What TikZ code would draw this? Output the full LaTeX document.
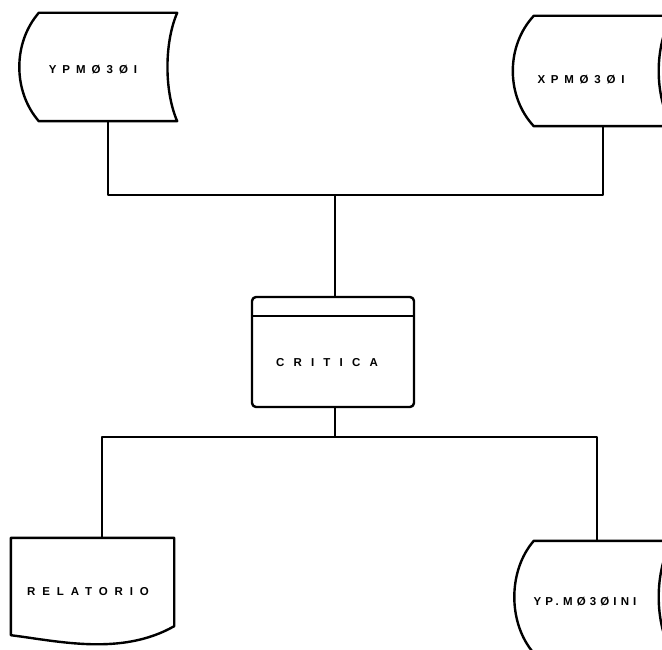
\documentclass[tikz,border=0pt]{standalone}
\usepackage{fontspec}
\newfontfamily\cardfont{Liberation Sans}
\newcommand\spaced[2]{{\addfontfeature{LetterSpace=#1}#2}}
% tape file outline: node, left bulge, right hollow
\newcommand\tapeoutline[3]{%
\draw (#1.south west) -- (#1.south east)
  .. controls ([xshift=-#3,yshift=30pt]#1.south east) and ([xshift=-#3,yshift=-30pt]#1.north east) .. (#1.north east)
  -- (#1.north west)
  .. controls ([xshift=-#2,yshift=-30pt]#1.north west) and ([xshift=-#2,yshift=30pt]#1.south west) .. (#1.south west) -- cycle;}

\begin{document}
\begin{tikzpicture}[x=1pt,y=-1pt,line width=2.4pt,line join=round,
  card/.style={minimum width=#1,minimum height=106pt,inner sep=0pt},
  cardtext/.style={font=\cardfont\bfseries\fontsize{11.5}{13}\selectfont}]
\useasboundingbox (0,0) rectangle (662,650);

% input files
\node[card=136pt,label={[cardtext,xshift=-15pt,yshift=-3pt]center:\spaced{52}{YPMØ3ØI}}] (ypm) at (108,67) {};
\node[card=136pt,minimum height=108pt,label={[cardtext,xshift=-22pt,yshift=-9pt]center:\spaced{50}{XPMØ3ØI}}] (xpm) at (603,71) {};
\tapeoutline{ypm}{26pt}{13pt}
\tapeoutline{xpm}{28pt}{18pt}

% program
\node[card=162pt,minimum height=110pt,draw,rounded corners=4pt,
  label={[cardtext,xshift=-6pt,yshift=-11pt]center:\spaced{80}{CRITICA}}] (critica) at (333,352) {};
\draw ([yshift=-20pt]critica.north west) -- ([yshift=-20pt]critica.north east);

% outputs
\node[card=161pt,minimum height=109pt,label={[cardtext,xshift=-4.5pt,yshift=1.5pt]center:\spaced{60}{RELATORIO}}] (rel) at (92.5,593.5) {};
\draw (rel.north west) -- (rel.north east) -- ([yshift=23pt]rel.south east)
  .. controls ([xshift=-53pt,yshift=-7pt]rel.south east) and ([xshift=48pt,yshift=8pt]rel.south west) .. ([yshift=14pt]rel.south west) -- cycle;
\node[card=136pt,minimum height=110pt,label={[cardtext,xshift=-18pt,yshift=-5pt]center:\spaced{36}{YP.MØ3ØINI}}] (ypini) at (603,597) {};
\tapeoutline{ypini}{26pt}{18pt}

% connectors
\coordinate (topjoin) at (335,195);
\coordinate (botjoin) at (335,437);
\draw (ypm.south) |- (topjoin) -| (xpm.south);
\draw (topjoin) -- (topjoin |- critica.north);
\draw (topjoin |- critica.south) -- (botjoin);
\draw ([xshift=9.5pt]rel.north) |- (botjoin) -| ([xshift=-6pt]ypini.north);
\end{tikzpicture}
\end{document}
